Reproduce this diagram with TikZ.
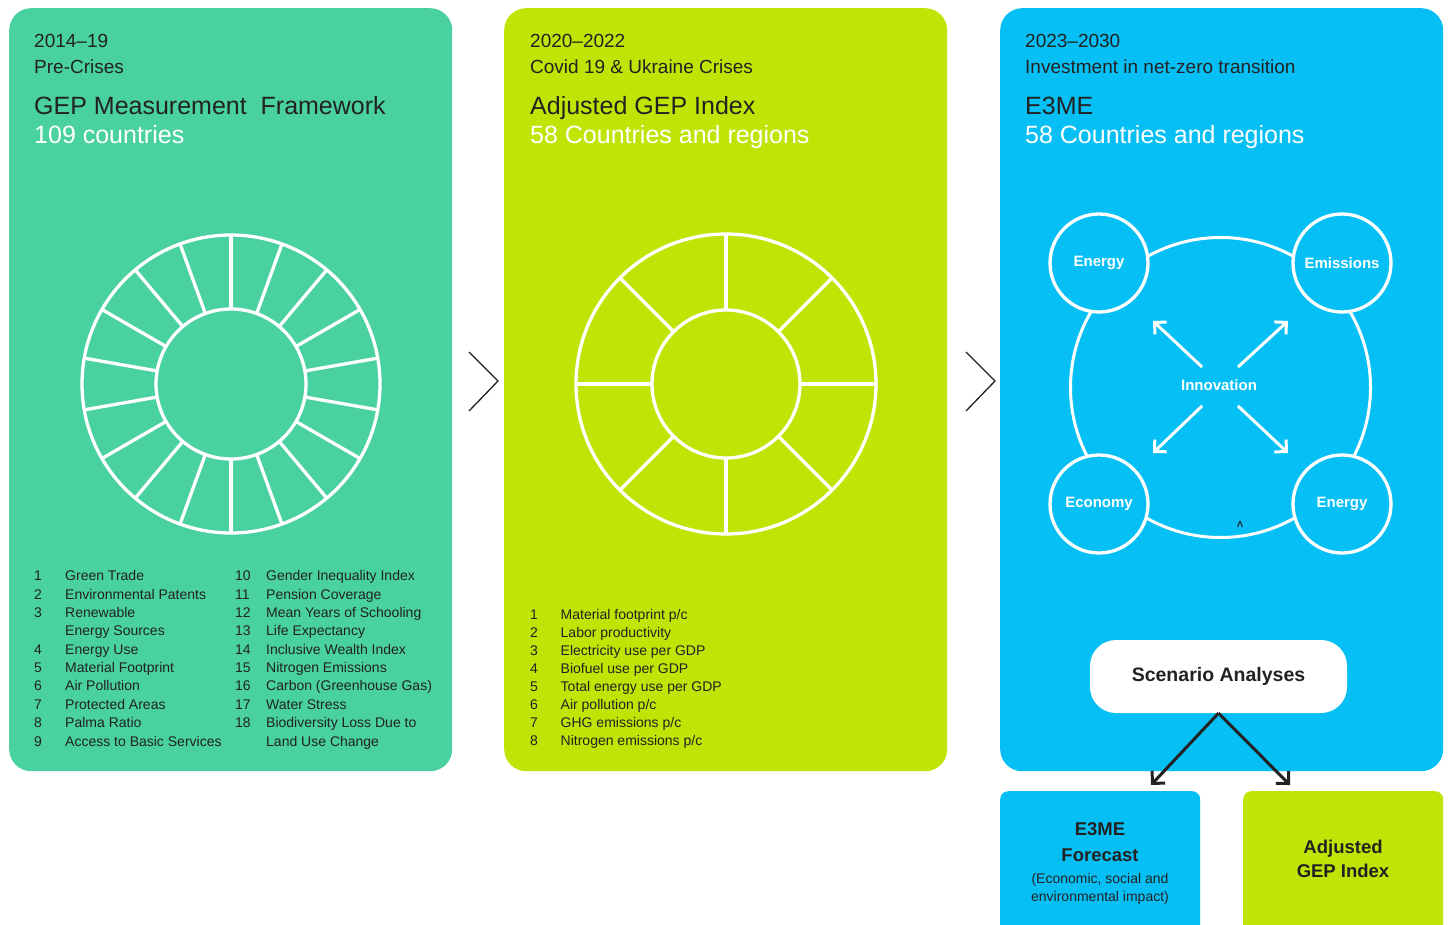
\documentclass[tikz,border=0pt]{standalone}
\usepackage{fontspec}
\setmainfont{Liberation Sans}
\usetikzlibrary{arrows.meta}
\definecolor{pgreen}{HTML}{49D19F}
\definecolor{plime}{HTML}{C0E406}
\definecolor{pblue}{HTML}{06BFF4}
\definecolor{ink}{HTML}{222222}
\begin{document}
\begin{tikzpicture}[x=1pt,y=-1pt,
  panel/.style={rounded corners=22pt, minimum width=443pt, minimum height=763pt, anchor=north west, inner sep=0pt},
  txt/.style={anchor=base west, inner sep=0pt, text=ink},
  small/.style={txt, font=\fontsize{19}{22}\selectfont},
  big/.style={txt, font=\fontsize{25}{30}\selectfont},
  item/.style={txt, font=\fontsize{14}{17}\selectfont},
  wheel/.style={draw=white, line width=3.3pt},
  chev/.style={draw=ink, line width=1.3pt},
  bub/.style={circle, draw=white, line width=3.3pt, fill=pblue, minimum size=98pt, inner sep=0pt, text=white, font=\bfseries\fontsize{15}{18}\selectfont},
  inarrow/.style={draw=white, line width=3pt, -{Straight Barb[length=8.5pt, width=17pt, line cap=butt, line join=miter]}},
  sarrow/.style={draw=ink, line width=3pt, -{Straight Barb[length=9pt, width=18pt, line cap=butt, line join=miter]}},
  boxt/.style={anchor=base, inner sep=0pt, text=ink, font=\bfseries\fontsize{18.5}{22}\selectfont},
  boxs/.style={anchor=base, inner sep=0pt, text=ink, font=\fontsize{14}{17}\selectfont}
]
\useasboundingbox (0,0) rectangle (1453,925);
\clip (0,0) rectangle (1453,925);
\fill[white] (0,0) rectangle (1453,925);

% panels
\node[panel, fill=pgreen] (p1) at (9,8) {};
\node[panel, fill=plime] (p2) at (504,8) {};
\node[panel, fill=pblue] (p3) at (1000,8) {};

% chevrons
\draw[chev] (469,352) -- (498,381) -- (469,411);
\draw[chev] (966,352) -- (995,381) -- (966,411);

% headers panel 1
\node[small] (h1a) at (34,48) {2014–19};
\node[small] (h1b) at (34,74) {Pre-Crises};
\node[big] (h1c) at (34,115) {GEP Measurement\ \ Framework};
\node[big, text=white] (h1d) at (34,144) {109 countries};
% headers panel 2
\node[small] (h2a) at (530,48) {2020–2022};
\node[small] (h2b) at (530,74) {Covid 19 \& Ukraine Crises};
\node[big] (h2c) at (530,115) {Adjusted GEP Index};
\node[big, text=white] (h2d) at (530,144) {58 Countries and regions};
% headers panel 3
\node[small] (h3a) at (1025,48) {2023–2030};
\node[small] (h3b) at (1025,74) {Investment in net-zero transition};
\node[big] (h3c) at (1025,115) {E3ME};
\node[big, text=white] (h3d) at (1025,144) {58 Countries and regions};

% wheel 1
\begin{scope}[shift={(231,384)}]
  \draw[wheel] (0,0) circle[radius=149];
  \draw[wheel] (0,0) circle[radius=75];
  \foreach \a in {10,30,...,350} \draw[wheel] (\a:75) -- (\a:149);
\end{scope}
% wheel 2
\begin{scope}[shift={(726,384)}]
  \draw[wheel] (0,0) circle[radius=150];
  \draw[wheel] (0,0) circle[radius=74];
  \foreach \a in {0,45,...,315} \draw[wheel] (\a:74) -- (\a:150);
\end{scope}

% list panel 1
\foreach \n/\t [count=\i from 0] in {1/Green Trade,2/Environmental Patents,3/Renewable,/Energy Sources,4/Energy Use,5/Material Footprint,6/Air Pollution,7/Protected Areas,8/Palma Ratio,9/Access to Basic Services}{
  \node[item] (la\i) at (34,{580.7+18.37*\i}) {\n};
  \node[item] (lb\i) at (65,{580.7+18.37*\i}) {\t};
}
\foreach \n/\t [count=\i from 0] in {10/Gender Inequality Index,11/Pension Coverage,12/Mean Years of Schooling,13/Life Expectancy,14/Inclusive Wealth Index,15/Nitrogen Emissions,16/Carbon (Greenhouse Gas),17/Water Stress,18/Biodiversity Loss Due to,/Land Use Change}{
  \node[item] (lc\i) at (235,{580.7+18.37*\i}) {\n};
  \node[item] (ld\i) at (266,{580.7+18.37*\i}) {\t};
}
% list panel 2
\foreach \n/\t [count=\i from 0] in {1/{Material footprint p/c},2/{Labor productivity},3/{Electricity use per GDP},4/{Biofuel use per GDP},5/{Total energy use per GDP},6/{Air pollution p/c},7/{GHG emissions p/c},8/{Nitrogen emissions p/c}}{
  \node[item] (le\i) at (530,{619+18.1*\i}) {\n};
  \node[item] (lf\i) at (560.5,{619+18.1*\i}) {\t};
}

% circle diagram
\draw[wheel, line width=3pt] (1220.5,387.5) circle[radius=150];
\node[bub] (en1) at (1099,263) {Energy};
\node[bub] (emi) at (1342,263) {Emissions};
\node[bub] (eco) at (1099,504) {Economy};
\node[bub] (en2) at (1342,504) {Energy};
\node[inner sep=0pt, text=white, font=\bfseries\fontsize{15}{18}\selectfont] (inn) at (1219,385) {Innovation};
\coordinate (a1s) at (1202,367); \coordinate (a1e) at (1153,321);
\coordinate (a2s) at (1238,367); \coordinate (a2e) at (1288,321);
\coordinate (a3s) at (1202,406); \coordinate (a3e) at (1153,453);
\coordinate (a4s) at (1238,406); \coordinate (a4e) at (1288,453);
\draw[inarrow] (a1s) -- (a1e);
\draw[inarrow] (a2s) -- (a2e);
\draw[inarrow] (a3s) -- (a3e);
\draw[inarrow] (a4s) -- (a4e);
\node[inner sep=0pt, text=ink, font=\bfseries\fontsize{9}{9}\selectfont] (lam) at (1240,524) {Λ};

% scenario
\node[fill=white, rounded corners=26pt, minimum width=257pt, minimum height=73pt, inner sep=0pt, text=ink, font=\bfseries\fontsize{19.5}{22}\selectfont] (scen) at (1218.5,676.5) {Scenario Analyses};
\coordinate (t1) at (1151,785);
\coordinate (t2) at (1290,785);
\draw[sarrow] (scen.south) -- (t1);
\draw[sarrow] (scen.south) -- (t2);

% bottom boxes
\node[fill=pblue, rounded corners=8pt, minimum width=200pt, minimum height=160pt, anchor=north west, inner sep=0pt] (bx1) at (1000,791) {};
\node[fill=plime, rounded corners=8pt, minimum width=200pt, minimum height=160pt, anchor=north west, inner sep=0pt] (bx2) at (1243,791) {};
\node[boxt] (b1a) at (1100,835) {E3ME};
\node[boxt] (b1b) at (1100,861) {Forecast};
\node[boxs] (b1c) at (1100,883.5) {(Economic, social and};
\node[boxs] (b1d) at (1100,901) {environmental impact)};
\node[boxt] (b2a) at (1343,853) {Adjusted};
\node[boxt] (b2b) at (1343,877) {GEP Index};
\end{tikzpicture}
\end{document}
